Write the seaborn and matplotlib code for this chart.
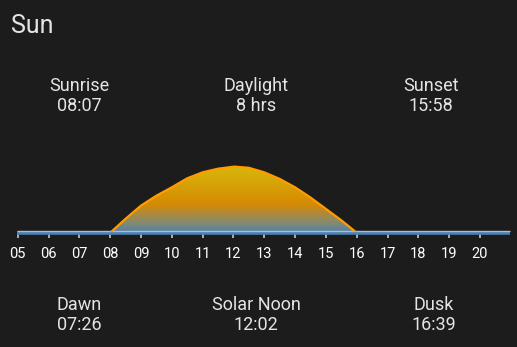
import numpy as np
import pandas as pd
import matplotlib
matplotlib.use("Agg")
import matplotlib.pyplot as plt
import matplotlib.transforms as mtransforms
from matplotlib.colors import LinearSegmentedColormap
import seaborn as sns

# ---- data ----
hours = [8.02, 8.5, 9.0, 9.5, 10.0, 10.5, 11.0, 11.5, 12.03, 12.5, 13.0, 13.5, 14.0, 14.5, 15.0, 15.5, 15.98]
elevation = [0.0, 2.25, 4.45, 6.1, 7.5, 9.0, 10.0, 10.6, 10.95, 10.75, 10.0, 8.9, 7.5, 5.8, 3.9, 2.0, 0.0]
tick_hours = list(range(5, 21))
tick_labels = [f"{h:02d}" for h in tick_hours]
axis_start, axis_end = 4.98, 20.97
title = "Sun"
top_labels = ["Sunrise", "Daylight", "Sunset"]
top_values = ["08:07", "8 hrs", "15:58"]
bottom_labels = ["Dawn", "Solar Noon", "Dusk"]
bottom_values = ["07:26", "12:02", "16:39"]

BG = "#1c1c1c"
TXT = "#e4e4e4"

sns.set_theme(style="dark")
plt.rcParams["font.family"] = ["Roboto", "DejaVu Sans"]

W, H = 517, 347
fig = plt.figure(figsize=(W / 100, H / 100), dpi=100, facecolor=BG)

base_px = 232.3
px_per_hour = 30.82
px_per_deg = 6.0
x0 = 5 - 17.7 / px_per_hour
x1 = x0 + W / px_per_hour
ax = fig.add_axes([0, (H - base_px) / H, 1, base_px / H])
ax.set_facecolor("none")
ax.set_xlim(x0, x1)
ax.set_ylim(0, base_px / px_per_deg)
for s in ax.spines.values():
    s.set_visible(False)
ax.grid(False)

df = pd.DataFrame({"hour": hours, "elev": elevation})

# gradient fill
poly = ax.fill_between(df["hour"], df["elev"], 0, color="none", lw=0)
cmap = LinearSegmentedColormap.from_list(
    "sun", [(0.0, "#4f80ab"), (0.12, "#7f8a78"), (0.42, "#d68a04"), (1.0, "#d6b80a")])
grad = np.linspace(0, 1, 256).reshape(-1, 1)
top = max(elevation)
im = ax.imshow(grad, extent=[min(hours), max(hours), 0, top], origin="lower",
               aspect="auto", cmap=cmap, zorder=2)
path = poly.get_paths()[0]
im.set_clip_path(path, transform=ax.transData)

# edge line
sns.lineplot(data=df, x="hour", y="elev", ax=ax, color="#ff9c00", lw=1.6,
             zorder=4, sort=False, legend=False)

# baseline (blue with light top)
ax.plot([axis_start, axis_end], [0, 0], color="#4a80b4", lw=2.6, zorder=3,
        clip_on=False, solid_capstyle="butt",
        transform=mtransforms.offset_copy(ax.transData, fig=fig, y=-0.6, units="dots"))
ax.plot([axis_start, axis_end], [0, 0], color="#aebccb", lw=1.0, zorder=3,
        clip_on=False, solid_capstyle="butt",
        transform=mtransforms.offset_copy(ax.transData, fig=fig, y=0.9, units="dots"))

ax.set_xticks(tick_hours)
ax.set_xticklabels(tick_labels)
ax.set_yticks([])
ax.tick_params(axis="x", direction="out", length=4.0, width=1.2, color="#c8c8c8",
               pad=6.5, labelsize=10.5, labelcolor="#ffffff", bottom=True)
ax.set_xlabel("")
ax.set_ylabel("")

# texts
fig.text(11 / W, 1 - 26 / H, title, color=TXT, fontsize=18, ha="left", va="center")
cols = [79, 256, 431]
bcols = [79, 256, 434]
for cx, lab, val in zip(cols, top_labels, top_values):
    fig.text(cx / W, 1 - 86 / H, lab, color=TXT, fontsize=13, ha="center", va="center")
    fig.text(cx / W, 1 - 106.5 / H, val, color=TXT, fontsize=13, ha="center", va="center")
for cx, lab, val in zip(bcols, bottom_labels, bottom_values):
    fig.text(cx / W, 1 - 305 / H, lab, color=TXT, fontsize=13, ha="center", va="center")
    fig.text(cx / W, 1 - 325 / H, val, color=TXT, fontsize=13, ha="center", va="center")

fig.savefig("out.png", dpi=100, facecolor=BG)
